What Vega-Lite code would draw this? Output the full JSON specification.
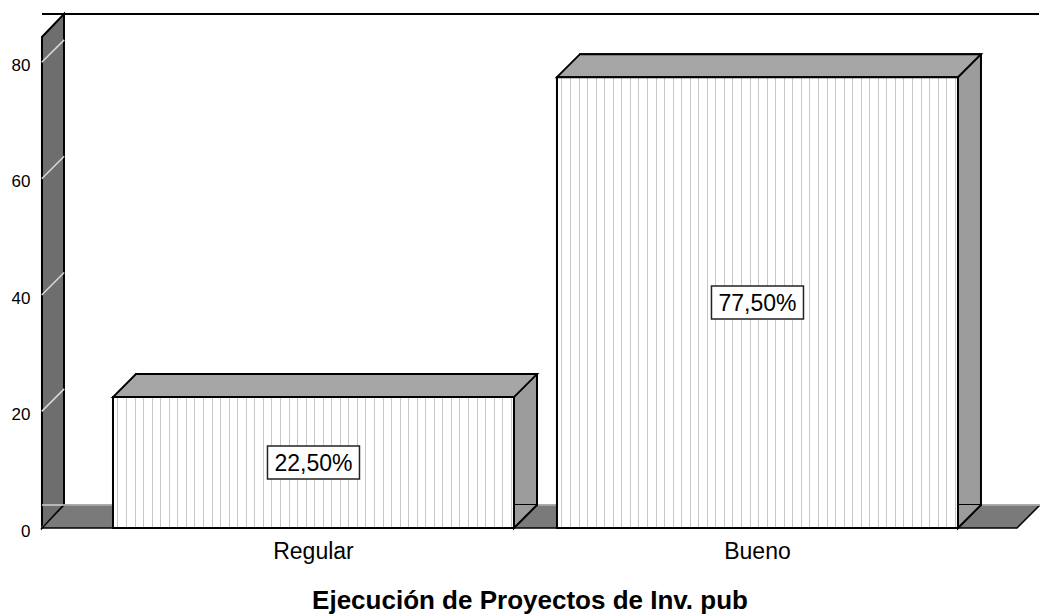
{
  "$schema": "https://vega.github.io/schema/vega-lite/v6.json",
  "width": 975,
  "height": 491,
  "autosize": {"type": "none"},
  "padding": {"left": 42, "top": 37, "right": 23, "bottom": 88},
  "background": "#ffffff",
  "config": {"view": {"stroke": null}, "font": "Liberation Sans"},
  "datasets": {
    "barras": [
      {"categoria": "Regular", "porcentaje": 22.5, "etiqueta": "22,50%"},
      {"categoria": "Bueno", "porcentaje": 77.5, "etiqueta": "77,50%"}
    ],
    "marcas": [{"valor": 0}, {"valor": 20}, {"valor": 40}, {"valor": 60}, {"valor": 80}],
    "pieza": [{"pieza": "base"}]
  },
  "layer": [
    {
      "layer": [
        {
          "data": {"name": "pieza"},
          "mark": {"type": "point", "shape": "M-0.0428,1L-0.0428,-0.9105L0.0428,-1L0.0428,0.9105Z", "size": 264196, "filled": true, "fill": "#6e6e6e", "stroke": "#000000", "strokeWidth": 2, "opacity": 1, "xOffset": -60, "yOffset": -257},
          "encoding": {
            "x": {"datum": "Regular", "bandPosition": 0, "type": "nominal",
              "scale": {"domain": ["Regular", "Bueno"], "paddingInner": 0.0968, "paddingOuter": 0.1464, "align": 0.546},
              "axis": {"title": "Ejecución de Proyectos de Inv. pub", "domain": false, "ticks": false, "grid": false, "labelPadding": 12, "labelFontSize": 23, "labelColor": "#000000", "labelAngle": 0, "titleFontSize": 26, "titleFontWeight": "bold", "titlePadding": 24, "titleColor": "#000000"}},
            "y": {"datum": 0, "type": "quantitative",
              "scale": {"domain": [0, 84.4], "nice": false, "zero": true},
              "axis": {"title": null, "values": [0, 20, 40, 60, 80], "domain": false, "ticks": false, "grid": false, "labelPadding": 12, "labelFontSize": 17, "labelColor": "#000000", "labelOffset": 3}}
          }
        },
        {
          "data": {"name": "marcas"},
          "mark": {"type": "point", "shape": "M-1,1L1,-1", "size": 506, "filled": false, "stroke": "#d9d9d9", "strokeWidth": 1.5, "opacity": 1, "xOffset": -60, "yOffset": -11.5},
          "encoding": {
            "x": {"datum": "Regular", "bandPosition": 0, "type": "nominal"},
            "y": {"field": "valor", "type": "quantitative"}
          }
        },
        {
          "data": {"name": "pieza"},
          "mark": {"type": "point", "shape": "M-1,0.02305L-0.9559,-0.02305L1,-0.02305L0.9539,0.02305Z", "size": 996004, "filled": true, "fill": "#7a7a7a", "stroke": "#000000", "strokeWidth": 1.5, "opacity": 1, "xOffset": 27, "yOffset": -11.5},
          "encoding": {
            "x": {"datum": "Regular", "bandPosition": 1, "type": "nominal"},
            "y": {"datum": 0, "type": "quantitative"}
          }
        },
        {
          "data": {"name": "pieza"},
          "mark": {"type": "rule", "stroke": "#d0d0d0", "strokeWidth": 1.5, "xOffset": 23, "x2Offset": 23, "yOffset": -23},
          "encoding": {"y": {"datum": 0, "type": "quantitative"}}
        },
        {
          "data": {"name": "pieza"},
          "mark": {"type": "rule", "stroke": "#000000", "strokeWidth": 2, "xOffset": 22, "x2Offset": 23, "yOffset": -23},
          "encoding": {"y": {"datum": 84.4, "type": "quantitative"}}
        },
        {
          "data": {"name": "barras"},
          "mark": {"type": "bar", "fill": "#9c9c9c", "stroke": "#000000", "strokeWidth": 2, "xOffset": 23, "x2Offset": 23, "yOffset": -23, "y2Offset": -23},
          "encoding": {
            "x": {"field": "categoria", "type": "nominal"},
            "y": {"field": "porcentaje", "type": "quantitative"}
          }
        },
        {
          "data": {"name": "barras"},
          "mark": {"type": "point", "shape": "M1,-1L-1,1L-1,-1", "size": 529, "filled": true, "fill": "#9c9c9c", "stroke": "#000000", "strokeWidth": 2, "opacity": 1, "xOffset": 11.5, "yOffset": -11.5},
          "encoding": {
            "x": {"field": "categoria", "type": "nominal", "bandPosition": 1},
            "y": {"datum": 0, "type": "quantitative"}
          }
        },
        {
          "data": {"name": "barras"},
          "mark": {"type": "point", "shape": "M-1,0.05425L-0.8915,-0.05425L1,-0.05425L0.8915,0.05425Z", "size": 179776, "filled": true, "fill": "#a6a6a6", "stroke": "#000000", "strokeWidth": 2, "opacity": 1, "xOffset": 11.5, "yOffset": -11.5},
          "encoding": {
            "x": {"field": "categoria", "type": "nominal"},
            "y": {"field": "porcentaje", "type": "quantitative"}
          }
        },
        {
          "data": {"name": "barras"},
          "mark": {"type": "bar", "stroke": "#000000", "strokeWidth": 2,
            "fill": {"gradient": "linear", "x1": 0, "x2": 1, "y1": 0, "y2": 0, "stops": [
              {"offset": 0, "color": "#ffffff"},
              {"offset": 0.0112, "color": "#ffffff"}, {"offset": 0.0112, "color": "#c6c6c6"}, {"offset": 0.0137, "color": "#c6c6c6"}, {"offset": 0.0137, "color": "#ffffff"},
              {"offset": 0.0325, "color": "#ffffff"}, {"offset": 0.0325, "color": "#c6c6c6"}, {"offset": 0.0350, "color": "#c6c6c6"}, {"offset": 0.0350, "color": "#ffffff"},
              {"offset": 0.0539, "color": "#ffffff"}, {"offset": 0.0539, "color": "#c6c6c6"}, {"offset": 0.0564, "color": "#c6c6c6"}, {"offset": 0.0564, "color": "#ffffff"},
              {"offset": 0.0752, "color": "#ffffff"}, {"offset": 0.0752, "color": "#c6c6c6"}, {"offset": 0.0777, "color": "#c6c6c6"}, {"offset": 0.0777, "color": "#ffffff"},
              {"offset": 0.0965, "color": "#ffffff"}, {"offset": 0.0965, "color": "#c6c6c6"}, {"offset": 0.0990, "color": "#c6c6c6"}, {"offset": 0.0990, "color": "#ffffff"},
              {"offset": 0.1178, "color": "#ffffff"}, {"offset": 0.1178, "color": "#c6c6c6"}, {"offset": 0.1203, "color": "#c6c6c6"}, {"offset": 0.1203, "color": "#ffffff"},
              {"offset": 0.1392, "color": "#ffffff"}, {"offset": 0.1392, "color": "#c6c6c6"}, {"offset": 0.1417, "color": "#c6c6c6"}, {"offset": 0.1417, "color": "#ffffff"},
              {"offset": 0.1605, "color": "#ffffff"}, {"offset": 0.1605, "color": "#c6c6c6"}, {"offset": 0.1630, "color": "#c6c6c6"}, {"offset": 0.1630, "color": "#ffffff"},
              {"offset": 0.1818, "color": "#ffffff"}, {"offset": 0.1818, "color": "#c6c6c6"}, {"offset": 0.1843, "color": "#c6c6c6"}, {"offset": 0.1843, "color": "#ffffff"},
              {"offset": 0.2031, "color": "#ffffff"}, {"offset": 0.2031, "color": "#c6c6c6"}, {"offset": 0.2056, "color": "#c6c6c6"}, {"offset": 0.2056, "color": "#ffffff"},
              {"offset": 0.2244, "color": "#ffffff"}, {"offset": 0.2244, "color": "#c6c6c6"}, {"offset": 0.2269, "color": "#c6c6c6"}, {"offset": 0.2269, "color": "#ffffff"},
              {"offset": 0.2458, "color": "#ffffff"}, {"offset": 0.2458, "color": "#c6c6c6"}, {"offset": 0.2483, "color": "#c6c6c6"}, {"offset": 0.2483, "color": "#ffffff"},
              {"offset": 0.2671, "color": "#ffffff"}, {"offset": 0.2671, "color": "#c6c6c6"}, {"offset": 0.2696, "color": "#c6c6c6"}, {"offset": 0.2696, "color": "#ffffff"},
              {"offset": 0.2884, "color": "#ffffff"}, {"offset": 0.2884, "color": "#c6c6c6"}, {"offset": 0.2909, "color": "#c6c6c6"}, {"offset": 0.2909, "color": "#ffffff"},
              {"offset": 0.3097, "color": "#ffffff"}, {"offset": 0.3097, "color": "#c6c6c6"}, {"offset": 0.3122, "color": "#c6c6c6"}, {"offset": 0.3122, "color": "#ffffff"},
              {"offset": 0.3311, "color": "#ffffff"}, {"offset": 0.3311, "color": "#c6c6c6"}, {"offset": 0.3336, "color": "#c6c6c6"}, {"offset": 0.3336, "color": "#ffffff"},
              {"offset": 0.3524, "color": "#ffffff"}, {"offset": 0.3524, "color": "#c6c6c6"}, {"offset": 0.3549, "color": "#c6c6c6"}, {"offset": 0.3549, "color": "#ffffff"},
              {"offset": 0.3737, "color": "#ffffff"}, {"offset": 0.3737, "color": "#c6c6c6"}, {"offset": 0.3762, "color": "#c6c6c6"}, {"offset": 0.3762, "color": "#ffffff"},
              {"offset": 0.3950, "color": "#ffffff"}, {"offset": 0.3950, "color": "#c6c6c6"}, {"offset": 0.3975, "color": "#c6c6c6"}, {"offset": 0.3975, "color": "#ffffff"},
              {"offset": 0.4163, "color": "#ffffff"}, {"offset": 0.4163, "color": "#c6c6c6"}, {"offset": 0.4188, "color": "#c6c6c6"}, {"offset": 0.4188, "color": "#ffffff"},
              {"offset": 0.4377, "color": "#ffffff"}, {"offset": 0.4377, "color": "#c6c6c6"}, {"offset": 0.4402, "color": "#c6c6c6"}, {"offset": 0.4402, "color": "#ffffff"},
              {"offset": 0.4590, "color": "#ffffff"}, {"offset": 0.4590, "color": "#c6c6c6"}, {"offset": 0.4615, "color": "#c6c6c6"}, {"offset": 0.4615, "color": "#ffffff"},
              {"offset": 0.4803, "color": "#ffffff"}, {"offset": 0.4803, "color": "#c6c6c6"}, {"offset": 0.4828, "color": "#c6c6c6"}, {"offset": 0.4828, "color": "#ffffff"},
              {"offset": 0.5016, "color": "#ffffff"}, {"offset": 0.5016, "color": "#c6c6c6"}, {"offset": 0.5041, "color": "#c6c6c6"}, {"offset": 0.5041, "color": "#ffffff"},
              {"offset": 0.5230, "color": "#ffffff"}, {"offset": 0.5230, "color": "#c6c6c6"}, {"offset": 0.5255, "color": "#c6c6c6"}, {"offset": 0.5255, "color": "#ffffff"},
              {"offset": 0.5443, "color": "#ffffff"}, {"offset": 0.5443, "color": "#c6c6c6"}, {"offset": 0.5468, "color": "#c6c6c6"}, {"offset": 0.5468, "color": "#ffffff"},
              {"offset": 0.5656, "color": "#ffffff"}, {"offset": 0.5656, "color": "#c6c6c6"}, {"offset": 0.5681, "color": "#c6c6c6"}, {"offset": 0.5681, "color": "#ffffff"},
              {"offset": 0.5869, "color": "#ffffff"}, {"offset": 0.5869, "color": "#c6c6c6"}, {"offset": 0.5894, "color": "#c6c6c6"}, {"offset": 0.5894, "color": "#ffffff"},
              {"offset": 0.6083, "color": "#ffffff"}, {"offset": 0.6083, "color": "#c6c6c6"}, {"offset": 0.6108, "color": "#c6c6c6"}, {"offset": 0.6108, "color": "#ffffff"},
              {"offset": 0.6296, "color": "#ffffff"}, {"offset": 0.6296, "color": "#c6c6c6"}, {"offset": 0.6321, "color": "#c6c6c6"}, {"offset": 0.6321, "color": "#ffffff"},
              {"offset": 0.6509, "color": "#ffffff"}, {"offset": 0.6509, "color": "#c6c6c6"}, {"offset": 0.6534, "color": "#c6c6c6"}, {"offset": 0.6534, "color": "#ffffff"},
              {"offset": 0.6722, "color": "#ffffff"}, {"offset": 0.6722, "color": "#c6c6c6"}, {"offset": 0.6747, "color": "#c6c6c6"}, {"offset": 0.6747, "color": "#ffffff"},
              {"offset": 0.6935, "color": "#ffffff"}, {"offset": 0.6935, "color": "#c6c6c6"}, {"offset": 0.6960, "color": "#c6c6c6"}, {"offset": 0.6960, "color": "#ffffff"},
              {"offset": 0.7149, "color": "#ffffff"}, {"offset": 0.7149, "color": "#c6c6c6"}, {"offset": 0.7174, "color": "#c6c6c6"}, {"offset": 0.7174, "color": "#ffffff"},
              {"offset": 0.7362, "color": "#ffffff"}, {"offset": 0.7362, "color": "#c6c6c6"}, {"offset": 0.7387, "color": "#c6c6c6"}, {"offset": 0.7387, "color": "#ffffff"},
              {"offset": 0.7575, "color": "#ffffff"}, {"offset": 0.7575, "color": "#c6c6c6"}, {"offset": 0.7600, "color": "#c6c6c6"}, {"offset": 0.7600, "color": "#ffffff"},
              {"offset": 0.7788, "color": "#ffffff"}, {"offset": 0.7788, "color": "#c6c6c6"}, {"offset": 0.7813, "color": "#c6c6c6"}, {"offset": 0.7813, "color": "#ffffff"},
              {"offset": 0.8002, "color": "#ffffff"}, {"offset": 0.8002, "color": "#c6c6c6"}, {"offset": 0.8027, "color": "#c6c6c6"}, {"offset": 0.8027, "color": "#ffffff"},
              {"offset": 0.8215, "color": "#ffffff"}, {"offset": 0.8215, "color": "#c6c6c6"}, {"offset": 0.8240, "color": "#c6c6c6"}, {"offset": 0.8240, "color": "#ffffff"},
              {"offset": 0.8428, "color": "#ffffff"}, {"offset": 0.8428, "color": "#c6c6c6"}, {"offset": 0.8453, "color": "#c6c6c6"}, {"offset": 0.8453, "color": "#ffffff"},
              {"offset": 0.8641, "color": "#ffffff"}, {"offset": 0.8641, "color": "#c6c6c6"}, {"offset": 0.8666, "color": "#c6c6c6"}, {"offset": 0.8666, "color": "#ffffff"},
              {"offset": 0.8854, "color": "#ffffff"}, {"offset": 0.8854, "color": "#c6c6c6"}, {"offset": 0.8879, "color": "#c6c6c6"}, {"offset": 0.8879, "color": "#ffffff"},
              {"offset": 0.9068, "color": "#ffffff"}, {"offset": 0.9068, "color": "#c6c6c6"}, {"offset": 0.9093, "color": "#c6c6c6"}, {"offset": 0.9093, "color": "#ffffff"},
              {"offset": 0.9281, "color": "#ffffff"}, {"offset": 0.9281, "color": "#c6c6c6"}, {"offset": 0.9306, "color": "#c6c6c6"}, {"offset": 0.9306, "color": "#ffffff"},
              {"offset": 0.9494, "color": "#ffffff"}, {"offset": 0.9494, "color": "#c6c6c6"}, {"offset": 0.9519, "color": "#c6c6c6"}, {"offset": 0.9519, "color": "#ffffff"},
              {"offset": 0.9707, "color": "#ffffff"}, {"offset": 0.9707, "color": "#c6c6c6"}, {"offset": 0.9732, "color": "#c6c6c6"}, {"offset": 0.9732, "color": "#ffffff"},
              {"offset": 0.9921, "color": "#ffffff"}, {"offset": 0.9921, "color": "#c6c6c6"}, {"offset": 0.9946, "color": "#c6c6c6"}, {"offset": 0.9946, "color": "#ffffff"},
              {"offset": 1, "color": "#ffffff"}
            ]}},
          "encoding": {
            "x": {"field": "categoria", "type": "nominal"},
            "y": {"field": "porcentaje", "type": "quantitative"}
          }
        }
      ]
    },
    {
      "data": {"name": "barras"},
      "layer": [
        {
          "mark": {"type": "point", "shape": "M-1,-0.3587L1,-0.3587L1,0.3587L-1,0.3587Z", "size": 8464, "filled": true, "fill": "#ffffff", "stroke": "#222222", "strokeWidth": 1.5, "opacity": 1},
          "encoding": {
            "x": {"field": "categoria", "type": "nominal"},
            "y": {"field": "porcentaje", "type": "quantitative", "scale": {"domain": [0, 168.8], "nice": false}, "axis": null}
          }
        },
        {
          "mark": {"type": "text", "fontSize": 23, "color": "#000000", "baseline": "middle", "align": "center", "dy": 1},
          "encoding": {
            "x": {"field": "categoria", "type": "nominal"},
            "y": {"field": "porcentaje", "type": "quantitative"},
            "text": {"field": "etiqueta"}
          }
        }
      ]
    }
  ],
  "resolve": {"scale": {"y": "independent"}}
}
